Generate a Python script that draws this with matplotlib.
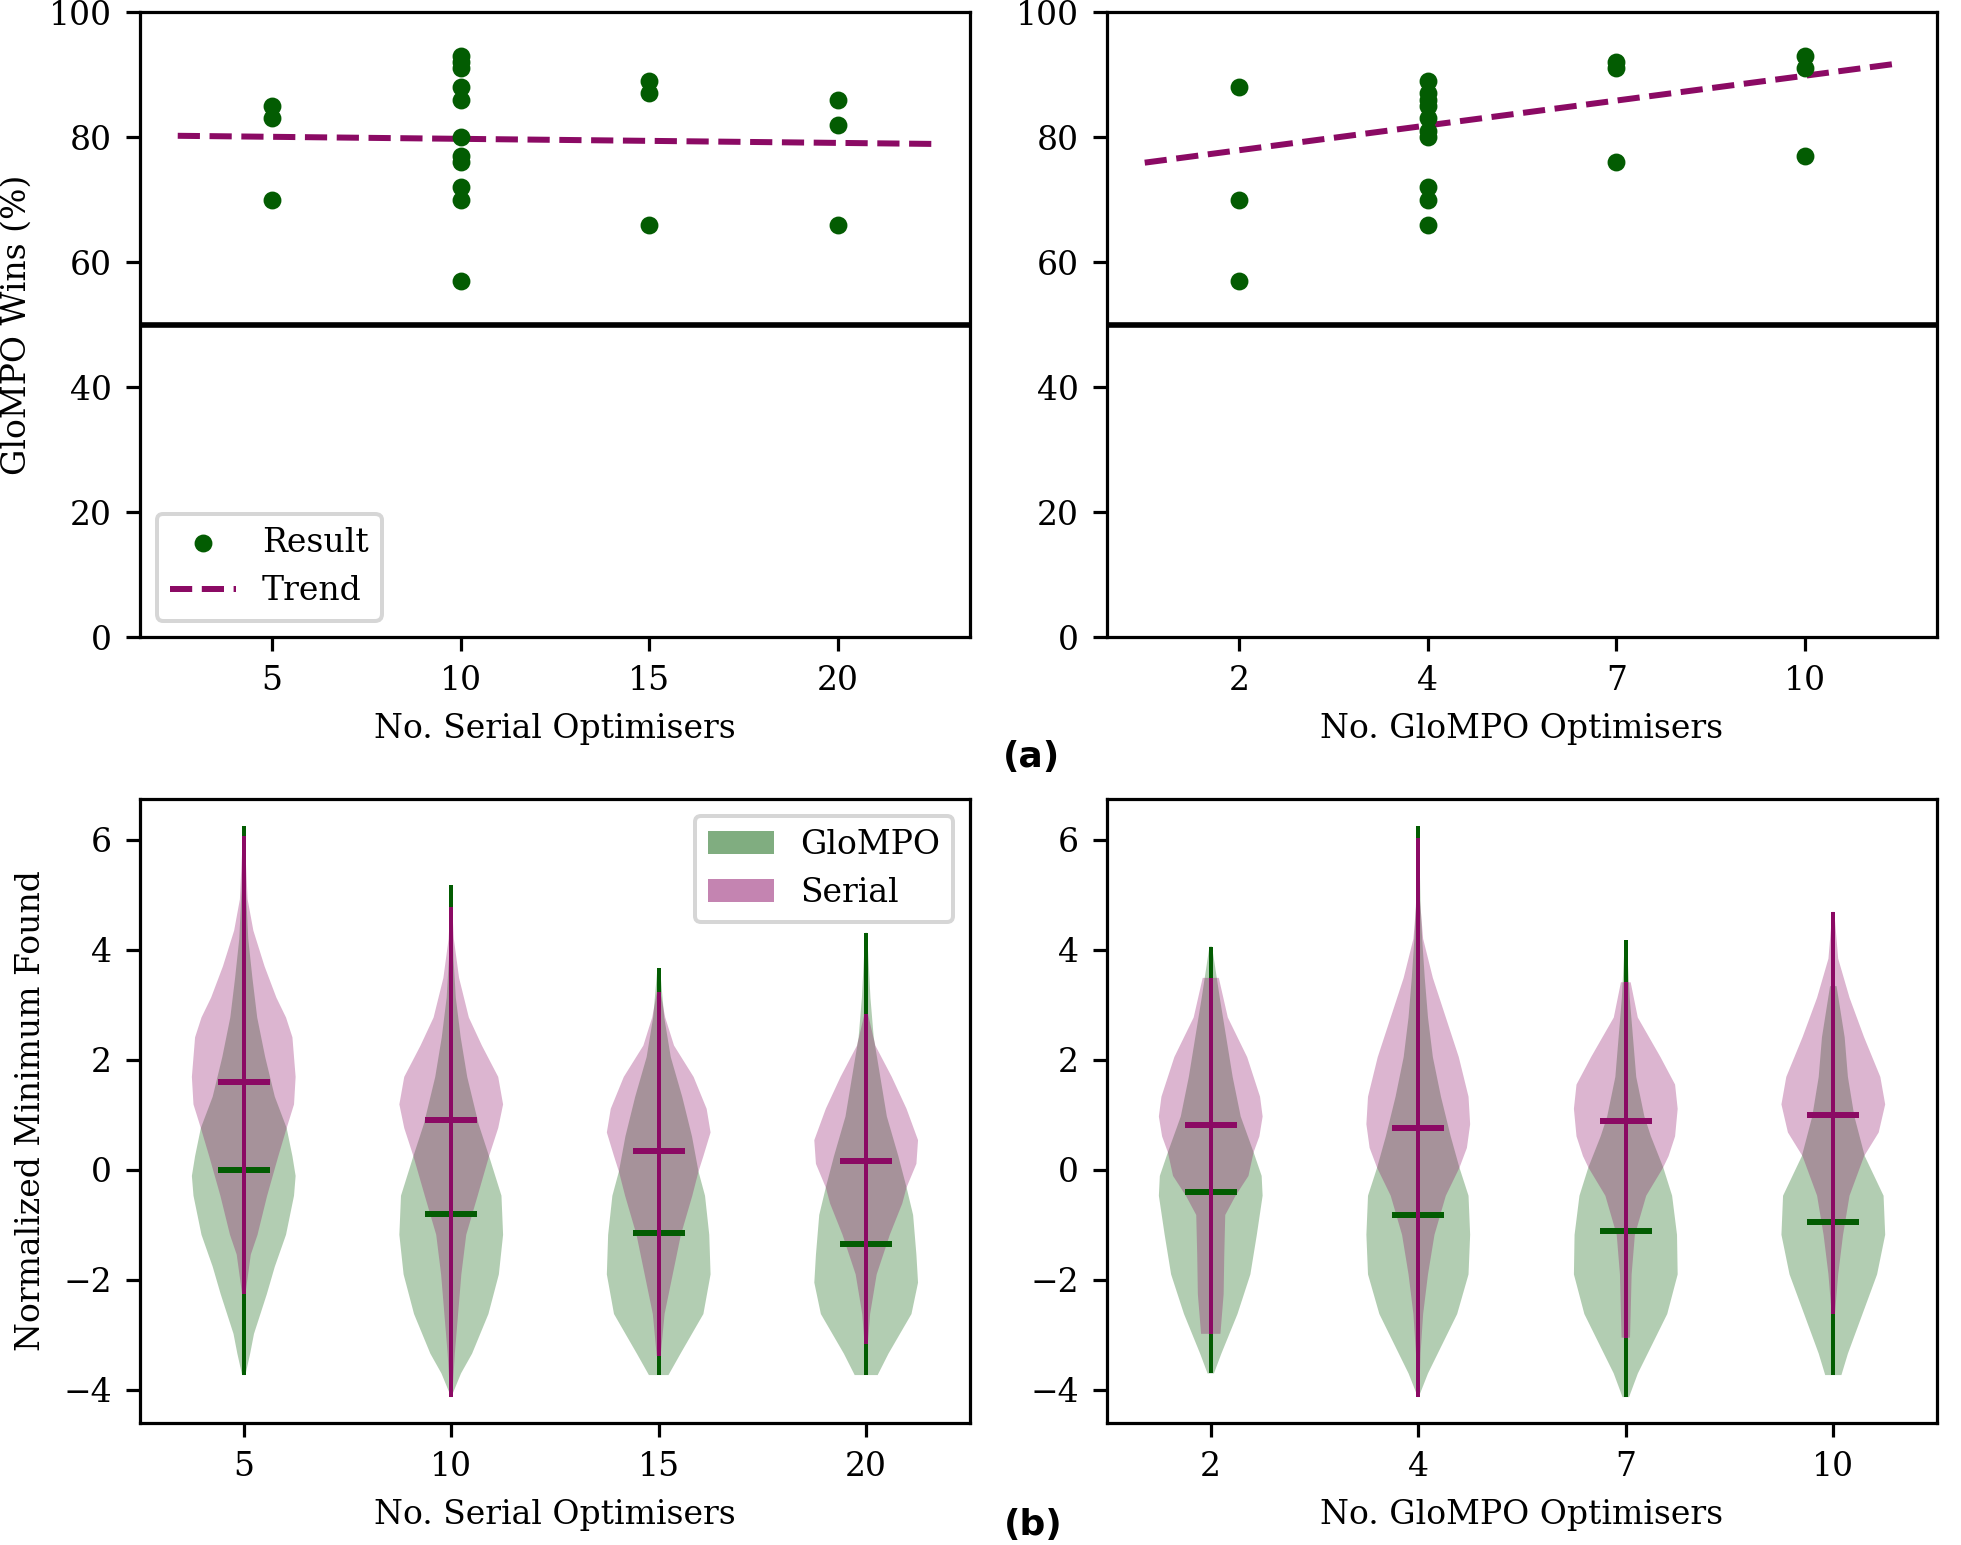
import numpy as np
import matplotlib.pyplot as plt
import matplotlib.patches as mpatches

plt.rcParams['font.family'] = 'serif'
plt.rcParams['font.size'] = 8.25

GREEN = '#035c02'
PURPLE = '#8b0a64'

serial_counts = ['5', '10', '15', '20']
glompo_counts = ['2', '4', '7', '10']

# GloMPO win percentage per run
wins_by_serial = [[85, 83, 70],
                  [93, 92, 91, 88, 86, 80, 77, 76, 72, 70, 57],
                  [89, 87, 66],
                  [86, 82, 66]]
wins_by_glompo = [[88, 70, 57],
                  [89, 87, 86, 85, 83, 81, 80, 72, 70, 66],
                  [92, 91, 76],
                  [93, 91, 77]]
# trend line value at the left and right end (x = -0.5 and 3.5)
trend_serial = [80.2, 78.9]
trend_glompo = [75.9, 91.8]

# violin outlines: (value, relative half width), bottom to top
glompo_by_serial = [
    [(-3.73, 5), (-3.34, 20), (-2.98, 32), (-2.26, 72), (-1.76, 97), (-1.18, 132), (-0.47, 157),
     (-0.11, 162), (0.25, 152), (0.76, 134), (1.33, 97), (2.05, 67), (2.77, 42), (3.49, 27),
     (4.20, 14), (5.07, 7), (6.25, 2)],
    [(-4.09, 3), (-3.70, 30), (-3.34, 64), (-2.62, 114), (-1.90, 146), (-1.18, 159), (-0.47, 154),
     (0.25, 116), (0.83, 84), (1.69, 49), (2.41, 29), (3.13, 14), (3.84, 7), (5.17, 2)],
    [(-3.73, 30), (-3.34, 67), (-2.62, 137), (-1.90, 159), (-1.18, 155), (-0.47, 142), (-0.03, 122),
     (0.61, 102), (1.33, 72), (2.05, 37), (2.77, 17), (3.67, 4)],
    [(-3.73, 35), (-3.34, 68), (-2.62, 138), (-2.05, 158), (-1.54, 153), (-0.82, 143), (-0.32, 123),
     (0.25, 98), (0.97, 63), (1.69, 43), (2.41, 23), (3.13, 13), (4.31, 3)],
]
serial_by_serial = [
    [(-2.26, 5), (-1.54, 22), (-1.18, 43), (-0.47, 73), (0.25, 108), (0.76, 134), (1.19, 157),
     (1.69, 162), (2.41, 152), (2.77, 132), (3.13, 102), (3.70, 65), (4.35, 30), (4.92, 12), (6.07, 3)],
    [(-4.13, 3), (-3.34, 11), (-2.62, 21), (-1.90, 31), (-1.18, 46), (-0.47, 81), (0.25, 116),
     (0.76, 144), (1.19, 159), (1.69, 144), (2.26, 94), (2.77, 54), (3.49, 24), (4.20, 8), (4.78, 3)],
    [(-3.38, 6), (-2.62, 18), (-1.90, 43), (-1.18, 68), (-0.47, 103), (-0.03, 122), (0.25, 137),
     (0.68, 159), (1.11, 147), (1.69, 107), (2.26, 47), (2.77, 20), (3.23, 5)],
    [(-3.16, 5), (-2.62, 12), (-1.90, 32), (-1.18, 72), (-0.61, 110), (-0.32, 123), (0.11, 153),
     (0.54, 158), (1.11, 123), (1.69, 78), (2.26, 28), (2.84, 5)],
]
glompo_by_glompo = [
    [(-3.70, 10), (-3.34, 33), (-2.62, 83), (-1.90, 123), (-1.18, 143), (-0.47, 161), (-0.11, 158),
     (0.32, 133), (0.97, 93), (1.69, 68), (2.41, 48), (3.13, 28), (4.06, 4)],
    [(-4.09, 4), (-3.70, 30), (-3.34, 60), (-2.62, 120), (-1.90, 155), (-1.18, 160), (-0.47, 155),
     (0.04, 127), (0.61, 100), (1.33, 70), (2.05, 45), (2.77, 30), (3.49, 20), (4.20, 12),
     (4.85, 7), (6.25, 2)],
    [(-4.13, 10), (-3.70, 37), (-3.34, 67), (-2.62, 127), (-1.90, 159), (-1.18, 157), (-0.47, 142),
     (0.04, 115), (0.61, 77), (0.97, 57), (1.69, 32), (2.41, 22), (3.13, 12), (4.17, 3)],
    [(-3.73, 25), (-3.34, 45), (-2.62, 90), (-1.90, 135), (-1.18, 160), (-0.47, 155), (0.25, 97),
     (0.97, 65), (1.69, 45), (2.41, 35), (3.34, 10)],
]
serial_by_glompo = [
    [(-2.98, 30), (-2.26, 40), (-1.54, 42), (-0.82, 45), (-0.47, 77), (-0.11, 117), (0.32, 133),
     (0.61, 151), (0.97, 161), (1.33, 153), (2.05, 113), (2.77, 53), (3.49, 25)],
    [(-4.13, 3), (-3.34, 7), (-2.62, 15), (-1.90, 30), (-1.18, 50), (-0.47, 85), (0.04, 127),
     (0.40, 150), (0.83, 160), (1.33, 155), (2.05, 125), (2.77, 85), (3.49, 45), (4.20, 15),
     (4.92, 5), (6.04, 2)],
    [(-3.05, 13), (-2.62, 15), (-1.90, 18), (-1.18, 28), (-0.47, 63), (0.04, 115), (0.25, 132),
     (0.61, 152), (1.11, 160), (1.55, 152), (2.05, 107), (2.77, 37), (3.41, 15)],
    [(-2.62, 5), (-1.90, 15), (-1.18, 30), (-0.47, 50), (0.25, 95), (0.68, 140), (1.19, 160),
     (1.69, 145), (2.41, 95), (3.13, 50), (3.84, 15), (4.69, 3)],
]
med_glompo_by_serial = [0.0, -0.80, -1.15, -1.34]
med_serial_by_serial = [1.60, 0.90, 0.35, 0.16]
med_glompo_by_glompo = [-0.40, -0.82, -1.11, -0.95]
med_serial_by_glompo = [0.81, 0.77, 0.89, 0.99]


def make_stats(profile, med):
    ys = np.array([p[0] for p in profile])
    ws = np.array([p[1] for p in profile], dtype=float)
    return dict(coords=ys, vals=ws, mean=med, median=med, min=ys[0], max=ys[-1])


def draw_violins(ax, profiles, medians, color):
    vp = ax.violin([make_stats(p, m) for p, m in zip(profiles, medians)],
                   positions=range(4), widths=0.5, showmedians=True)
    for body in vp['bodies']:
        body.set_facecolor(color)
        body.set_edgecolor('none')
        body.set_alpha(0.3)
    vp['cbars'].set_color(color)
    vp['cbars'].set_linewidth(1.0)
    vp['cmedians'].set_color(color)
    vp['cmedians'].set_linewidth(1.5)
    vp['cmins'].set_visible(False)
    vp['cmaxes'].set_visible(False)


def draw_wins(ax, wins, trend, labels, xlabel):
    for i, grp in enumerate(wins):
        ax.scatter([i] * len(grp), grp, s=12, color=GREEN, zorder=3,
                   label='Result' if i == 0 else None)
    ax.plot([-0.5, 3.5], trend, '--', color=PURPLE, lw=1.5, label='Trend')
    ax.axhline(50, color='black', lw=1.4)
    ax.set_xlim(-0.7, 3.7)
    ax.set_ylim(0, 100)
    ax.set_xticks(range(4))
    ax.set_xticklabels(labels)
    ax.set_xlabel(xlabel)


fig = plt.figure(figsize=(1961 / 288, 1545 / 288), dpi=288)
ax1 = fig.add_axes([0.0714, 0.5877, 0.4232, 0.4045])
ax2 = fig.add_axes([0.5645, 0.5877, 0.4233, 0.4045])
ax3 = fig.add_axes([0.0714, 0.0790, 0.4232, 0.4038])
ax4 = fig.add_axes([0.5645, 0.0790, 0.4233, 0.4038])

draw_wins(ax1, wins_by_serial, trend_serial, serial_counts, 'No. Serial Optimisers')
draw_wins(ax2, wins_by_glompo, trend_glompo, glompo_counts, 'No. GloMPO Optimisers')
ax1.set_ylabel('GloMPO Wins (%)')
ax1.legend(loc='lower left')

draw_violins(ax3, glompo_by_serial, med_glompo_by_serial, GREEN)
draw_violins(ax3, serial_by_serial, med_serial_by_serial, PURPLE)
draw_violins(ax4, glompo_by_glompo, med_glompo_by_glompo, GREEN)
draw_violins(ax4, serial_by_glompo, med_serial_by_glompo, PURPLE)
for ax, labels, xlabel in [(ax3, serial_counts, 'No. Serial Optimisers'),
                           (ax4, glompo_counts, 'No. GloMPO Optimisers')]:
    ax.set_xlim(-0.5, 3.5)
    ax.set_ylim(-4.6, 6.74)
    ax.set_xticks(range(4))
    ax.set_xticklabels(labels)
    ax.set_yticks([-4, -2, 0, 2, 4, 6])
    ax.set_xlabel(xlabel)
ax3.set_ylabel('Normalized Minimum Found')
handles = [mpatches.Patch(facecolor=GREEN, edgecolor='none', alpha=0.5, label='GloMPO'),
           mpatches.Patch(facecolor=PURPLE, edgecolor='none', alpha=0.5, label='Serial')]
ax3.legend(handles=handles, loc='upper right')

fig.text(1032 / 1961, 1 - 757 / 1545, '(a)', family='DejaVu Sans', fontweight='bold',
         fontsize=9, ha='center', va='center')
fig.text(1033 / 1961, 1 - 1525 / 1545, '(b)', family='DejaVu Sans', fontweight='bold',
         fontsize=9, ha='center', va='center')

fig.savefig('out.png', dpi=288)
